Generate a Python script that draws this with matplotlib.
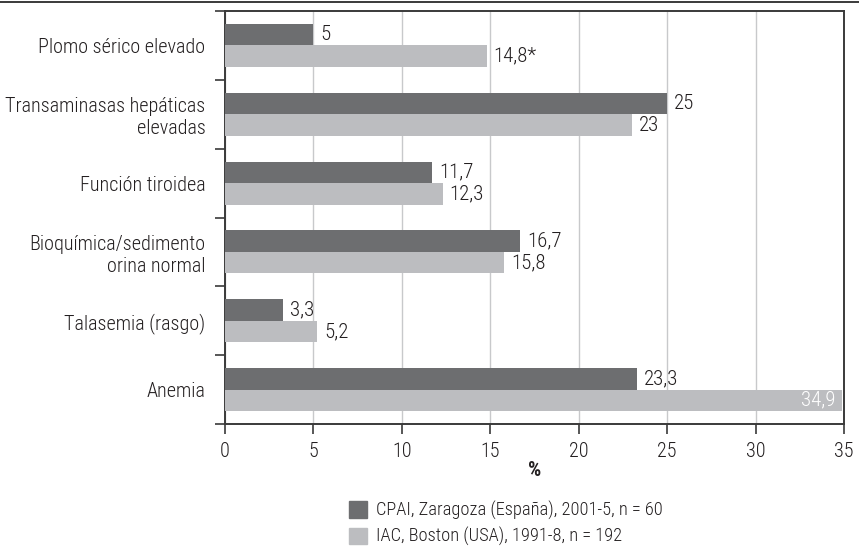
"""Horizontal bar chart: CPAI Zaragoza vs IAC Boston screening findings."""

import matplotlib

matplotlib.use("Agg")
import matplotlib.pyplot as plt
import numpy as np
from matplotlib import font_manager
from matplotlib.lines import Line2D
from matplotlib.patches import Patch

CATEGORIES = [
    "Plomo sérico elevado",
    "Transaminasas hepáticas\nelevadas",
    "Función tiroidea",
    "Bioquímica/sedimento\norina normal",
    "Talasemia (rasgo)",
    "Anemia",
]
CPAI_VALUES = [5, 25, 11.7, 16.7, 3.3, 23.3]
IAC_VALUES = [14.8, 23, 12.3, 15.8, 5.2, 34.9]
CPAI_LABELS = ["5", "25", "11,7", "16,7", "3,3", "23,3"]
IAC_LABELS = ["14,8*", "23", "12,3", "15,8", "5,2", "34,9"]
X_TICKS = [0, 5, 10, 15, 20, 25, 30, 35]
LEGEND_LABELS = [
    "CPAI, Zaragoza (España), 2001-5, n = 60",
    "IAC, Boston (USA), 1991-8, n = 192",
]

DARK = "#6d6e70"
LIGHT = "#bcbdc0"
TEXT = "#231f20"
FRAME = "#3a3a3a"
GRID = "#c8c9cb"

# prefer a condensed face if one is around, otherwise Roboto
installed = {f.name for f in font_manager.fontManager.ttflist}
families = [f for f in ("Roboto Condensed", "Liberation Sans Narrow", "Roboto")
            if f in installed]
plt.rcParams["font.family"] = families + ["DejaVu Sans"]
plt.rcParams["font.size"] = 14
plt.rcParams["font.weight"] = "light"

W, H = 859, 549
fig = plt.figure(figsize=(W / 100, H / 100), dpi=100)
ax = fig.add_axes([225 / W, 1 - 424 / H, (844 - 225) / W, (424 - 11) / H])

y = np.arange(len(CATEGORIES))
bh = 0.313
bars_dark = ax.barh(y - bh / 2, CPAI_VALUES, height=bh, color=DARK, zorder=3)
bars_light = ax.barh(y + bh / 2, IAC_VALUES, height=bh, color=LIGHT, zorder=3)

for bar, txt in zip(bars_dark, CPAI_LABELS):
    ax.annotate(txt, (bar.get_width(), bar.get_y() + bar.get_height() / 2),
                xytext=(5, 0), textcoords="offset points", fontsize=15,
                ha="left", va="center", color=TEXT, zorder=4)

for bar, txt in zip(bars_light, IAC_LABELS):
    w = bar.get_width()
    yc = bar.get_y() + bar.get_height() / 2
    if w > 33:
        ax.annotate(txt, (w, yc), xytext=(-5, 0), textcoords="offset points",
                    fontsize=15, ha="right", va="center", color="white",
                    zorder=4)
    else:
        ax.annotate(txt, (w, yc), xytext=(5, 0), textcoords="offset points",
                    fontsize=15, ha="left", va="center", color=TEXT, zorder=4)

ax.set_xlim(0, 35)
ax.set_ylim(len(CATEGORIES) - 0.5, -0.5)
ax.set_xticks(X_TICKS)
ax.set_xticklabels([str(t) for t in X_TICKS], fontsize=14.5)
ax.xaxis.grid(True, color=GRID, linewidth=1.0, zorder=0)
ax.set_axisbelow(True)

ax.set_yticks(y)
ax.set_yticklabels(CATEGORIES, ha="right", multialignment="right",
                   fontsize=14.5)
ax.set_yticks(np.arange(len(CATEGORIES) + 1) - 0.5, minor=True)
ax.tick_params(axis="y", which="major", length=0, pad=14, colors=TEXT)
ax.tick_params(axis="y", which="minor", length=7.2, width=1.2,
               direction="out", color=FRAME)
ax.tick_params(axis="x", length=7.2, width=1.2, direction="out",
               color=FRAME, labelcolor=TEXT, pad=6)
ax.set_xlabel("%", fontweight="bold", fontsize=15, color=TEXT, labelpad=0)

for side in ("left", "bottom", "right", "top"):
    ax.spines[side].set_color(FRAME)
    ax.spines[side].set_linewidth(1.4)

# rule across the top of the figure
fig.add_artist(Line2D([0, 1], [1 - 2 / H, 1 - 2 / H], color=FRAME,
                      linewidth=1.4, transform=fig.transFigure))

handles = [Patch(color=DARK), Patch(color=LIGHT)]
fig.legend(handles, LEGEND_LABELS, loc="upper left",
           bbox_to_anchor=(349 / W, 1 - 501 / H), frameon=False,
           borderpad=0, borderaxespad=0, handlelength=0.97, handleheight=0.97,
           handletextpad=0.5, labelspacing=0.4, labelcolor=TEXT,
           prop={"size": 13.2})

fig.savefig("out.png", dpi=100)
